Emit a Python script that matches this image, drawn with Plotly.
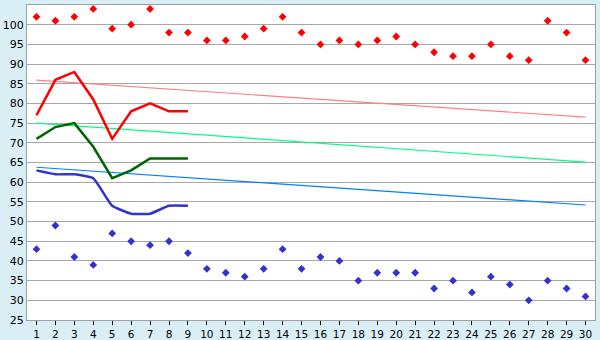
import plotly.graph_objects as go

days = list(range(1, 31))
high_points = [102, 101, 102, 104, 99, 100, 104, 98, 98, 96, 96, 97, 99, 102, 98,
               95, 96, 95, 96, 97, 95, 93, 92, 92, 95, 92, 91, 101, 98, 91]
low_points = [43, 49, 41, 39, 47, 45, 44, 45, 42, 38, 37, 36, 38, 43, 38,
              41, 40, 35, 37, 37, 37, 33, 35, 32, 36, 34, 30, 35, 33, 31]
line_days = list(range(1, 10))
red_line = [77, 86, 88, 81, 71, 78, 80, 78, 78]
green_line = [71, 74, 75, 69, 61, 63, 66, 66, 66]
blue_line = [63, 62, 62, 61, 54, 52, 52, 54, 54]
trend_days = [1, 30]
red_trend = [85.9, 76.5]
green_trend = [75.0, 65.1]
blue_trend = [63.8, 54.2]

fig = go.Figure()
fig.add_trace(go.Scatter(x=trend_days, y=red_trend, mode="lines",
                         line=dict(color="#ff8080", width=1.2)))
fig.add_trace(go.Scatter(x=trend_days, y=green_trend, mode="lines",
                         line=dict(color="#00ff80", width=1.2)))
fig.add_trace(go.Scatter(x=trend_days, y=blue_trend, mode="lines",
                         line=dict(color="#0080ff", width=1.2)))
fig.add_trace(go.Scatter(x=line_days, y=red_line, mode="lines",
                         line=dict(color="#ff0000", width=2.5)))
fig.add_trace(go.Scatter(x=line_days, y=green_line, mode="lines",
                         line=dict(color="#006400", width=2.5)))
fig.add_trace(go.Scatter(x=line_days, y=blue_line, mode="lines",
                         line=dict(color="#3333cc", width=2.5, shape="spline", smoothing=0.4)))
fig.add_trace(go.Scatter(x=days, y=high_points, mode="markers",
                         marker=dict(symbol="diamond", size=6, color="#ff0000")))
fig.add_trace(go.Scatter(x=days, y=low_points, mode="markers",
                         marker=dict(symbol="diamond", size=6, color="#3333cc")))

fig.update_layout(
    width=600, height=340,
    margin=dict(l=27, r=5, t=5, b=20, autoexpand=False),
    paper_bgcolor="#d9eff5",
    plot_bgcolor="#ffffff",
    showlegend=False,
    font=dict(family="DejaVu Sans", size=11, color="#000000"),
)
fig.update_xaxes(
    range=[0.5, 30.5], tickmode="array", tickvals=days,
    ticktext=[str(d) for d in days],
    ticks="outside", ticklen=4, tickcolor="#000000",
    tickfont=dict(size=10.5),
    showgrid=False, zeroline=False,
    showline=True, linecolor="#a0a0a0", linewidth=1, mirror=True,
    automargin=False,
)
fig.update_yaxes(
    range=[25, 105], dtick=5, tick0=25,
    showgrid=True, gridcolor="#a8a8a8", gridwidth=1,
    zeroline=False, ticks="",
    showline=True, linecolor="#a0a0a0", linewidth=1, mirror=True,
    automargin=False,
)
fig.write_html("out.html")
